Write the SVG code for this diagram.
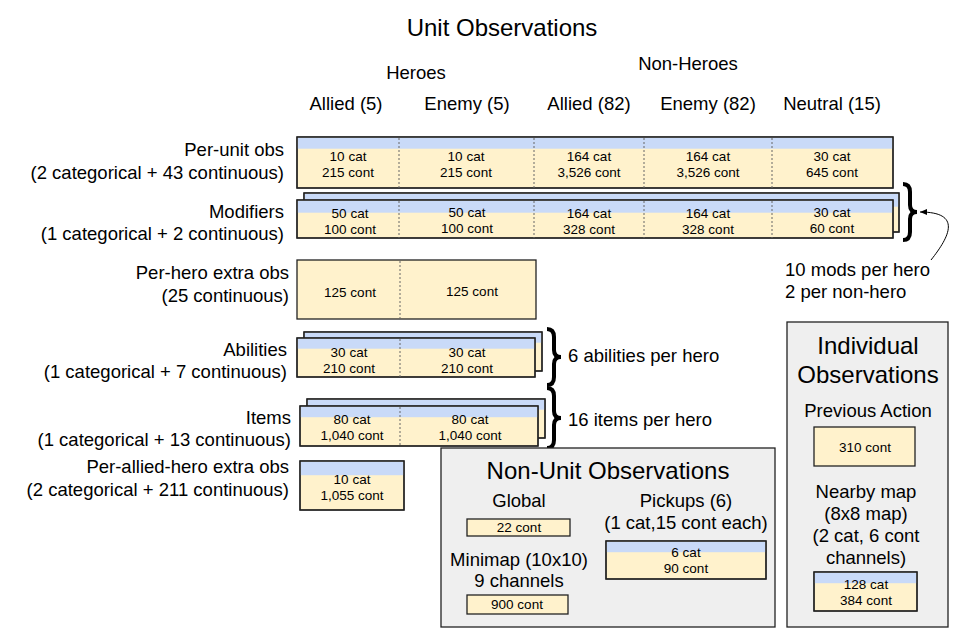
<svg xmlns="http://www.w3.org/2000/svg" width="959" height="638" viewBox="0 0 959 638">
<style>
text{font-family:"Liberation Sans",Arial,sans-serif;fill:#000}
.h{font-size:24px;text-anchor:middle}
.l{font-size:18.5px}
.r{font-size:18.5px;text-anchor:end}
.c{font-size:18.5px;text-anchor:middle}
.s{font-size:13.5px;text-anchor:middle}
.y{fill:#fff2cc;stroke:#222;stroke-width:1.3}
.b{fill:#c9daf8}
.o{fill:none;stroke:#222;stroke-width:1.3}
.d{stroke:#666;stroke-width:1;stroke-dasharray:2,2}
.g{fill:#efefef;stroke:#222;stroke-width:1.3}
.br{fill:none;stroke:#000;stroke-width:4}
</style>
<defs>
<marker id="ah" markerWidth="8" markerHeight="8" refX="7" refY="4" orient="auto" markerUnits="userSpaceOnUse"><path d="M0,1 L7,4 L0,7 Z" fill="#000"/></marker>
</defs>

<text class="h" x="502" y="36">Unit Observations</text>
<text class="c" x="416" y="79">Heroes</text>
<text class="c" x="688" y="70">Non-Heroes</text>
<text class="c" x="346" y="110">Allied (5)</text>
<text class="c" x="467" y="110">Enemy (5)</text>
<text class="c" x="589" y="110">Allied (82)</text>
<text class="c" x="708" y="110">Enemy (82)</text>
<text class="c" x="832" y="110">Neutral (15)</text>

<g id="per-unit">
<text class="r" x="284" y="156">Per-unit obs</text>
<text class="r" x="284" y="179">(2 categorical + 43 continuous)</text>
<rect class="y" x="297" y="137" width="596" height="51"/>
<rect class="b" x="297.7" y="137.7" width="594.6" height="11"/>
<rect class="o" x="297" y="137" width="596" height="51"/>
<line class="d" x1="399" y1="138" x2="399" y2="188"/>
<line class="d" x1="534" y1="138" x2="534" y2="188"/>
<line class="d" x1="644" y1="138" x2="644" y2="188"/>
<line class="d" x1="772" y1="138" x2="772" y2="188"/>
<text class="s" x="348" y="161">10 cat</text><text class="s" x="348" y="177">215 cont</text>
<text class="s" x="466" y="161">10 cat</text><text class="s" x="466" y="177">215 cont</text>
<text class="s" x="589" y="161">164 cat</text><text class="s" x="589" y="177">3,526 cont</text>
<text class="s" x="708" y="161">164 cat</text><text class="s" x="708" y="177">3,526 cont</text>
<text class="s" x="832" y="161">30 cat</text><text class="s" x="832" y="177">645 cont</text>
</g>

<g id="modifiers">
<text class="r" x="284" y="218">Modifiers</text>
<text class="r" x="284" y="240">(1 categorical + 2 continuous)</text>
<rect class="y" x="304" y="193" width="595" height="39"/>
<rect class="b" x="304.7" y="193.7" width="593.6" height="13"/>
<rect class="o" x="304" y="193" width="595" height="39"/>
<rect class="y" x="297" y="200" width="596" height="38"/>
<rect class="b" x="297.7" y="200.7" width="594.6" height="12"/>
<rect class="o" x="297" y="200" width="596" height="38"/>
<line class="d" x1="399" y1="201" x2="399" y2="238"/>
<line class="d" x1="534" y1="201" x2="534" y2="238"/>
<line class="d" x1="644" y1="201" x2="644" y2="238"/>
<line class="d" x1="772" y1="201" x2="772" y2="238"/>
<text class="s" x="350" y="218">50 cat</text><text class="s" x="350" y="234">100 cont</text>
<text class="s" x="467" y="217">50 cat</text><text class="s" x="467" y="233">100 cont</text>
<text class="s" x="589" y="218">164 cat</text><text class="s" x="589" y="234">328 cont</text>
<text class="s" x="708" y="218">164 cat</text><text class="s" x="708" y="234">328 cont</text>
<text class="s" x="832" y="217">30 cat</text><text class="s" x="832" y="233">60 cont</text>
<path class="br" d="M903,184 Q910,184 910,192 L910,205 Q910,212 917,212 Q910,212 910,219 L910,232 Q910,240 903,240"/>
<text class="l" x="785" y="276">10 mods per hero</text>
<text class="l" x="785" y="298">2 per non-hero</text>
</g>

<g id="per-hero">
<text class="r" x="289" y="279">Per-hero extra obs</text>
<text class="r" x="289" y="302">(25 continuous)</text>
<rect class="y" x="297" y="260" width="239" height="59"/>
<line class="d" x1="400" y1="261" x2="400" y2="319"/>
<text class="s" x="350" y="297">125 cont</text>
<text class="s" x="472" y="296">125 cont</text>
</g>

<g id="abilities">
<text class="r" x="287" y="356">Abilities</text>
<text class="r" x="287" y="378">(1 categorical + 7 continuous)</text>
<rect class="y" x="304" y="332" width="238" height="39"/>
<rect class="b" x="304.7" y="332.7" width="236.6" height="10"/>
<rect class="o" x="304" y="332" width="238" height="39"/>
<rect class="y" x="297" y="338" width="238" height="39"/>
<rect class="b" x="297.7" y="338.7" width="236.6" height="10"/>
<rect class="o" x="297" y="338" width="238" height="39"/>
<line class="d" x1="400" y1="339" x2="400" y2="377"/>
<text class="s" x="349" y="357">30 cat</text><text class="s" x="349" y="373">210 cont</text>
<text class="s" x="467" y="357">30 cat</text><text class="s" x="467" y="373">210 cont</text>
<path class="br" d="M547,329 Q554,329 554,337 L554,350 Q554,357 561,357 Q554,357 554,364 L554,377 Q554,385 547,385"/>
<text class="l" x="568" y="362">6 abilities per hero</text>
</g>

<g id="items">
<text class="r" x="291" y="424">Items</text>
<text class="r" x="291" y="446">(1 categorical + 13 continuous)</text>
<rect class="y" x="307" y="399" width="238" height="39"/>
<rect class="b" x="307.7" y="399.7" width="236.6" height="10"/>
<rect class="o" x="307" y="399" width="238" height="39"/>
<rect class="y" x="300" y="406" width="238" height="40"/>
<rect class="b" x="300.7" y="406.7" width="236.6" height="10.5"/>
<rect class="o" x="300" y="406" width="238" height="40"/>
<line class="d" x1="400" y1="407" x2="400" y2="446"/>
<text class="s" x="352" y="424">80 cat</text><text class="s" x="352" y="440">1,040 cont</text>
<text class="s" x="470" y="424">80 cat</text><text class="s" x="470" y="440">1,040 cont</text>
<path class="br" d="M547,388 Q554,388 554,396 L554,411 Q554,418 561,418 Q554,418 554,425 L554,440 Q554,448 547,448"/>
<text class="l" x="568" y="426">16 items per hero</text>
</g>

<g id="per-allied-hero">
<text class="r" x="289" y="473">Per-allied-hero extra obs</text>
<text class="r" x="289" y="496">(2 categorical + 211 continuous)</text>
<rect class="y" x="300" y="461" width="104" height="49"/>
<rect class="b" x="300.7" y="461.7" width="102.6" height="13.5"/>
<rect class="o" x="300" y="461" width="104" height="49"/>
<text class="s" x="352" y="484">10 cat</text><text class="s" x="352" y="500">1,055 cont</text>
</g>

<g id="non-unit">
<rect class="g" x="441" y="448" width="334" height="179"/>
<text class="h" x="608" y="479">Non-Unit Observations</text>
<text class="c" x="519" y="507">Global</text>
<rect class="y" x="467" y="519" width="103" height="17"/>
<text class="s" x="519" y="532">22 cont</text>
<text class="c" x="519" y="566">Minimap (10x10)</text>
<text class="c" x="519" y="587">9 channels</text>
<rect class="y" x="467" y="595" width="101" height="19"/>
<text class="s" x="517" y="609">900 cont</text>
<text class="c" x="686" y="507">Pickups (6)</text>
<text class="c" x="686" y="529">(1 cat,15 cont each)</text>
<rect class="y" x="606" y="541" width="160" height="38"/>
<rect class="b" x="606.7" y="541.7" width="158.6" height="10.5"/>
<rect class="o" x="606" y="541" width="160" height="38"/>
<text class="s" x="686" y="557">6 cat</text>
<text class="s" x="686" y="573">90 cont</text>
</g>

<g id="individual">
<rect class="g" x="787" y="322" width="161" height="305"/>
<text class="h" x="868" y="354">Individual</text>
<text class="h" x="868" y="383">Observations</text>
<text class="c" x="868" y="417">Previous Action</text>
<rect class="y" x="814" y="427" width="101" height="39"/>
<text class="s" x="865" y="452">310 cont</text>
<text class="c" x="866" y="498">Nearby map</text>
<text class="c" x="866" y="520">(8x8 map)</text>
<text class="c" x="866" y="542">(2 cat, 6 cont</text>
<text class="c" x="866" y="564">channels)</text>
<rect class="y" x="814" y="572" width="103" height="39"/>
<rect class="b" x="814.7" y="572.7" width="101.6" height="10.5"/>
<rect class="o" x="814" y="572" width="103" height="39"/>
<text class="s" x="866" y="589">128 cat</text>
<text class="s" x="866" y="605">384 cont</text>
</g>

<g id="connectors">
<path d="M931,260 C950,236 962,212 920,212" fill="none" stroke="#000" stroke-width="1" marker-end="url(#ah)"/>
</g>
</svg>
